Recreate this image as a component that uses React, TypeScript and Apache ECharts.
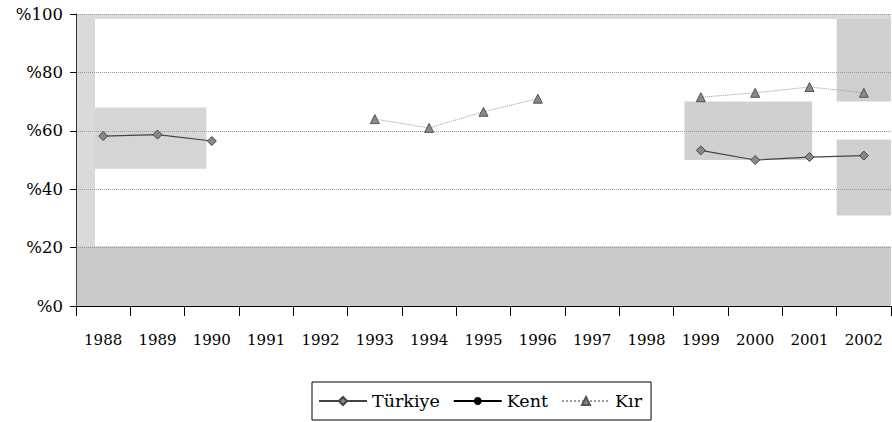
import React, { useEffect, useRef } from "react";
import * as echarts from "echarts";

const years = ["1988","1989","1990","1991","1992","1993","1994","1995","1996","1997","1998","1999","2000","2001","2002"];
const yTicks = [0, 20, 40, 60, 80, 100];
const turkiye = [58.2, 58.7, 56.5, null, null, null, null, null, null, null, null, 53.3, 50.0, 51.0, 51.5];
const kent = [null, null, null, null, null, null, null, null, null, null, null, null, null, null, null];
const kir = [null, null, null, null, null, 64.0, 61.0, 66.5, 71.0, null, null, 71.5, 73.0, 75.0, 73.0];

// scan-shading patches: [fromIndex, toIndex, fromValue, toValue, opacity]
const shadePatches: [number, number, number, number, number][] = [
  [-0.5, 14.5, 0, 20.5, 0.5],
  [-0.5, -0.15, 20.5, 100, 0.35],
  [-0.15, 14.5, 98.3, 100, 0.35],
  [-0.15, 1.9, 47, 68, 0.4],
  [10.7, 13.05, 50, 70, 0.45],
  [13.5, 14.5, 70, 98.3, 0.45],
  [13.5, 14.5, 31, 57, 0.45],
];

const FONT = "DejaVu Serif";

export default function App() {
  const ref = useRef<HTMLDivElement>(null);
  useEffect(() => {
    if (!ref.current) return;
    const chart = echarts.init(ref.current, null, { renderer: "svg" });
    chart.setOption({
      animation: false,
      backgroundColor: "#ffffff",
      textStyle: { fontFamily: FONT },
      grid: { left: 76, right: 1, top: 14, bottom: 116 },
      legend: {
        top: 382,
        left: 312,
        data: ["Türkiye", "Kent", "Kır"],
        borderColor: "#000",
        borderWidth: 1,
        borderRadius: 0,
        padding: [10, 9, 10, 6],
        itemGap: 13,
        itemWidth: 48,
        itemHeight: 10,
        textStyle: { fontFamily: FONT, fontSize: 17.5, color: "#000" },
      },
      xAxis: {
        type: "category",
        data: years,
        boundaryGap: true,
        axisLine: { lineStyle: { color: "#000", width: 1 } },
        axisTick: { show: true, length: 10, lineStyle: { color: "#000" } },
        axisLabel: { fontFamily: FONT, fontSize: 15, color: "#000", margin: 26 },
      },
      yAxis: {
        type: "value",
        min: 0,
        max: 100,
        interval: 20,
        axisLine: { show: true, lineStyle: { color: "#000", width: 1 } },
        axisTick: { show: true, inside: false, length: 6, lineStyle: { color: "#000" } },
        axisLabel: { fontFamily: FONT, fontSize: 16.5, color: "#000", margin: 13, formatter: (v: number) => "%" + v },
        splitLine: { show: true, lineStyle: { color: "#999", type: "dotted", width: 1 } },
      },
      series: [
        {
          name: "Türkiye",
          type: "line",
          data: turkiye,
          symbol: "diamond",
          symbolSize: 9,
          color: "#666",
          lineStyle: { color: "#444", width: 1.2 },
          itemStyle: { color: "#888", borderColor: "#444", borderWidth: 1 },
        },
        {
          name: "Kent",
          type: "line",
          data: kent,
          symbol: "circle",
          symbolSize: 7,
          color: "#000",
          lineStyle: { color: "#000", width: 2 },
          itemStyle: { color: "#000" },
        },
        {
          name: "Kır",
          type: "line",
          data: kir,
          symbol: "triangle",
          symbolSize: 9,
          color: "#777",
          lineStyle: { color: "#999", width: 1, type: "dotted" },
          itemStyle: { color: "#888", borderColor: "#555", borderWidth: 1 },
        },
      ],
    });
    const p0 = chart.convertToPixel({ gridIndex: 0 }, [0, 0]) as number[];
    const p1 = chart.convertToPixel({ gridIndex: 0 }, [1, 100]) as number[];
    const step = p1[0] - p0[0];
    const xOf = (i: number) => p0[0] + i * step;
    const yOf = (v: number) => p0[1] + (p1[1] - p0[1]) * (v / 100);
    chart.setOption({
      graphic: shadePatches.map(([a, b, v0, v1, op]) => ({
        type: "rect",
        z: 1,
        silent: true,
        shape: { x: xOf(a), y: yOf(v1), width: xOf(b) - xOf(a), height: yOf(v0) - yOf(v1) },
        style: { fill: "rgb(150,150,150)", opacity: op },
      })),
    });
    return () => chart.dispose();
  }, []);
  return <div ref={ref} style={{ position: "fixed", left: 0, top: 0, width: 892, height: 422 }} />;
}
